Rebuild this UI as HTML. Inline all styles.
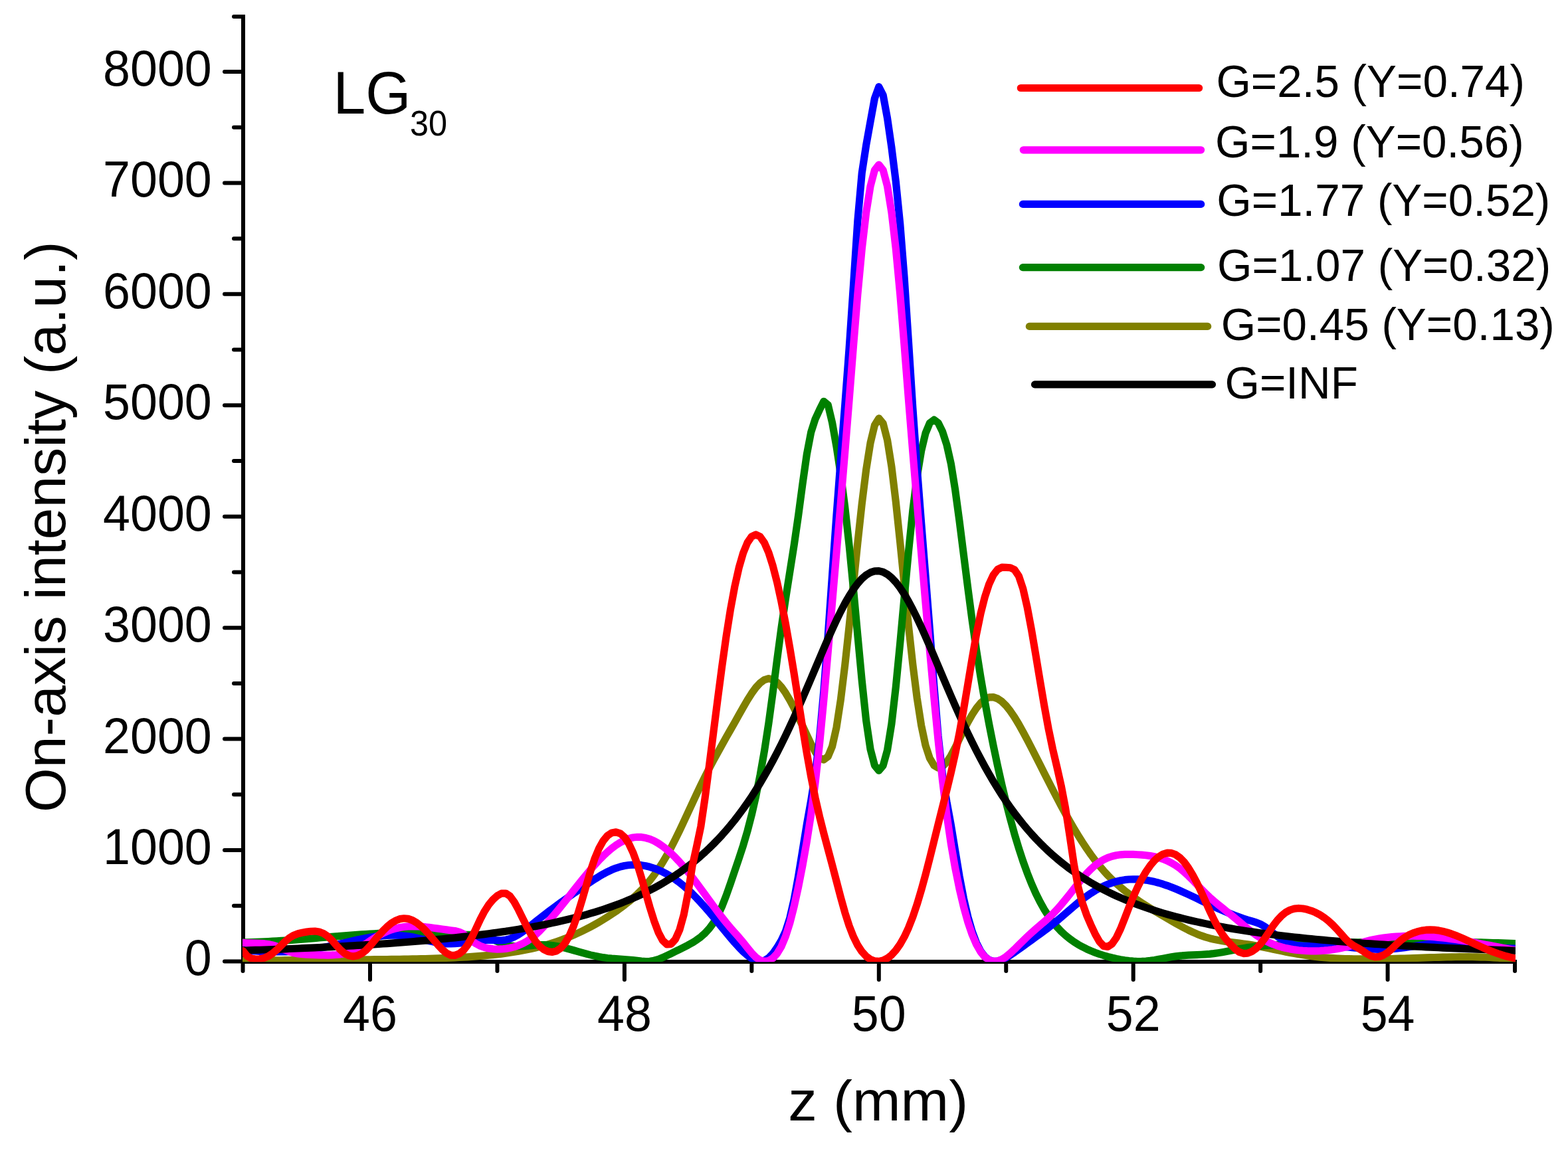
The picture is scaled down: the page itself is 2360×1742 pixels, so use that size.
<!DOCTYPE html>
<html><head><meta charset="utf-8"><title>On-axis intensity LG30</title>
<style>html,body{margin:0;padding:0;background:#fff;}body{width:2360px;height:1742px;overflow:hidden;}svg{display:block;}</style>
</head><body>
<svg xmlns="http://www.w3.org/2000/svg" width="2360" height="1742" viewBox="0 0 2360 1742">
<rect width="100%" height="100%" fill="#ffffff"/>
<defs><clipPath id="pc"><rect x="365" y="0" width="1916" height="1448.2"/></clipPath></defs>
<g stroke="#000" stroke-width="6.0" stroke-linecap="round" fill="none"><line x1="366.0" y1="22" x2="366.0" y2="1451" stroke-linecap="butt"/><line x1="363" y1="1448.0" x2="2283" y2="1448.0" stroke-linecap="butt"/><line x1="338" y1="1447.50" x2="366.0" y2="1447.50" /><line x1="352" y1="1363.78" x2="366.0" y2="1363.78" /><line x1="338" y1="1280.06" x2="366.0" y2="1280.06" /><line x1="352" y1="1196.34" x2="366.0" y2="1196.34" /><line x1="338" y1="1112.62" x2="366.0" y2="1112.62" /><line x1="352" y1="1028.90" x2="366.0" y2="1028.90" /><line x1="338" y1="945.19" x2="366.0" y2="945.19" /><line x1="352" y1="861.47" x2="366.0" y2="861.47" /><line x1="338" y1="777.75" x2="366.0" y2="777.75" /><line x1="352" y1="694.03" x2="366.0" y2="694.03" /><line x1="338" y1="610.31" x2="366.0" y2="610.31" /><line x1="352" y1="526.59" x2="366.0" y2="526.59" /><line x1="338" y1="442.87" x2="366.0" y2="442.87" /><line x1="352" y1="359.15" x2="366.0" y2="359.15" /><line x1="338" y1="275.43" x2="366.0" y2="275.43" /><line x1="352" y1="191.71" x2="366.0" y2="191.71" /><line x1="338" y1="108.00" x2="366.0" y2="108.00" /><line x1="352" y1="25.00" x2="366.0" y2="25.00" /><line x1="365.55" y1="1448.0" x2="365.55" y2="1462" /><line x1="557.00" y1="1448.0" x2="557.00" y2="1475" /><line x1="748.45" y1="1448.0" x2="748.45" y2="1462" /><line x1="939.90" y1="1448.0" x2="939.90" y2="1475" /><line x1="1131.35" y1="1448.0" x2="1131.35" y2="1462" /><line x1="1322.80" y1="1448.0" x2="1322.80" y2="1475" /><line x1="1514.25" y1="1448.0" x2="1514.25" y2="1462" /><line x1="1705.70" y1="1448.0" x2="1705.70" y2="1475" /><line x1="1897.15" y1="1448.0" x2="1897.15" y2="1462" /><line x1="2088.60" y1="1448.0" x2="2088.60" y2="1475" /><line x1="2280.05" y1="1448.0" x2="2280.05" y2="1462" /></g>
<g clip-path="url(#pc)" fill="none" stroke-width="11.2" stroke-linejoin="round" stroke-linecap="round"><path d="M365.55 1446.60L371.93 1446.50L378.31 1446.40L384.70 1446.30L391.08 1446.21L397.46 1446.11L403.84 1446.02L410.22 1445.94L416.60 1445.86L422.98 1445.78L429.37 1445.71L435.75 1445.64L442.13 1445.58L448.51 1445.52L454.89 1445.46L461.27 1445.40L467.66 1445.35L474.04 1445.31L480.42 1445.26L486.80 1445.22L493.18 1445.17L499.57 1445.13L505.95 1445.09L512.33 1445.06L518.71 1445.02L525.09 1444.98L531.47 1444.93L537.85 1444.89L544.24 1444.85L550.62 1444.80L557.00 1444.75L563.38 1444.70L569.76 1444.64L576.15 1444.57L582.53 1444.50L588.91 1444.43L595.29 1444.35L601.67 1444.25L608.05 1444.15L614.43 1444.04L620.82 1443.92L627.20 1443.79L633.58 1443.65L639.96 1443.49L646.34 1443.32L652.72 1443.12L659.11 1442.92L665.49 1442.69L671.87 1442.44L678.25 1442.16L684.63 1441.86L691.02 1441.53L697.40 1441.18L703.78 1440.79L710.16 1440.36L716.54 1439.89L722.92 1439.39L729.30 1438.83L735.69 1438.23L742.07 1437.58L748.45 1436.86L754.83 1436.09L761.21 1435.25L767.60 1434.33L773.98 1433.34L780.36 1432.26L786.74 1431.10L793.12 1429.83L799.50 1428.46L805.88 1426.98L812.27 1425.38L818.65 1423.66L825.03 1421.81L831.41 1419.84L837.79 1417.72L844.17 1415.47L850.56 1413.08L856.94 1410.53L863.32 1407.84L869.70 1404.99L876.08 1401.99L882.47 1398.83L888.85 1395.51L895.23 1392.02L901.61 1388.37L907.99 1384.55L914.37 1380.56L920.75 1376.40L927.14 1372.07L933.52 1367.53L939.90 1362.73L946.28 1357.63L952.66 1352.17L959.05 1346.30L965.43 1339.96L971.81 1333.08L978.19 1325.57L984.57 1317.37L990.95 1308.38L997.33 1298.49L1003.72 1287.67L1010.10 1275.98L1016.48 1263.54L1022.86 1250.49L1029.24 1236.97L1035.62 1223.17L1042.01 1209.29L1048.39 1195.55L1054.77 1182.18L1061.15 1169.27L1067.53 1156.81L1073.92 1144.72L1080.30 1132.96L1086.68 1121.45L1093.06 1110.12L1099.44 1098.88L1105.82 1087.64L1112.20 1076.30L1118.59 1064.96L1124.97 1054.01L1131.35 1043.92L1137.73 1035.16L1144.11 1028.21L1150.50 1023.56L1156.88 1021.70L1163.26 1023.01L1169.64 1027.31L1176.02 1034.21L1182.40 1043.28L1188.78 1054.09L1195.17 1066.22L1201.55 1079.27L1207.93 1092.84L1214.31 1106.57L1220.69 1120.08L1227.08 1132.24L1233.46 1140.90L1239.84 1143.90L1246.22 1139.04L1252.60 1123.77L1258.98 1095.16L1265.37 1053.31L1271.75 1001.25L1278.13 942.46L1284.51 879.93L1290.89 817.16L1297.27 758.31L1303.65 707.20L1310.04 666.86L1316.42 640.20L1322.80 629.87L1329.18 637.62L1335.56 662.57L1341.95 702.82L1348.33 755.65L1354.71 816.36L1361.09 880.09L1367.47 942.63L1373.85 1000.50L1380.23 1051.00L1386.62 1092.08L1393.00 1122.25L1399.38 1141.71L1405.76 1152.44L1412.14 1156.10L1418.52 1154.09L1424.91 1147.57L1431.29 1137.69L1437.67 1125.57L1444.05 1112.42L1450.43 1099.42L1456.82 1087.15L1463.20 1075.97L1469.58 1066.28L1475.96 1058.45L1482.34 1052.88L1488.72 1049.93L1495.10 1049.65L1501.49 1051.83L1507.87 1056.22L1514.25 1062.55L1520.63 1070.56L1527.01 1079.97L1533.40 1090.50L1539.78 1101.89L1546.16 1113.88L1552.54 1126.22L1558.92 1138.73L1565.30 1151.34L1571.68 1163.96L1578.07 1176.53L1584.45 1188.97L1590.83 1201.23L1597.21 1213.25L1603.59 1224.97L1609.97 1236.34L1616.36 1247.34L1622.74 1257.91L1629.12 1268.02L1635.50 1277.65L1641.88 1286.78L1648.27 1295.38L1654.65 1303.43L1661.03 1310.94L1667.41 1317.88L1673.79 1324.32L1680.17 1330.30L1686.55 1335.88L1692.94 1341.12L1699.32 1346.05L1705.70 1350.72L1712.08 1355.16L1718.46 1359.42L1724.85 1363.52L1731.23 1367.50L1737.61 1371.39L1743.99 1375.20L1750.37 1378.97L1756.75 1382.71L1763.13 1386.43L1769.52 1390.11L1775.90 1393.69L1782.28 1397.12L1788.66 1400.37L1795.04 1403.40L1801.42 1406.17L1807.81 1408.67L1814.19 1410.86L1820.57 1412.74L1826.95 1414.30L1833.33 1415.60L1839.72 1416.70L1846.10 1417.65L1852.48 1418.50L1858.86 1419.30L1865.24 1420.10L1871.62 1420.93L1878.00 1421.84L1884.39 1422.86L1890.77 1423.99L1897.15 1425.21L1903.53 1426.50L1909.91 1427.83L1916.30 1429.17L1922.68 1430.52L1929.06 1431.86L1935.44 1433.16L1941.82 1434.41L1948.20 1435.60L1954.58 1436.72L1960.97 1437.77L1967.35 1438.73L1973.73 1439.61L1980.11 1440.39L1986.49 1441.09L1992.87 1441.70L1999.26 1442.21L2005.64 1442.65L2012.02 1443.00L2018.40 1443.29L2024.78 1443.51L2031.17 1443.69L2037.55 1443.82L2043.93 1443.90L2050.31 1443.95L2056.69 1443.97L2063.07 1443.95L2069.45 1443.91L2075.84 1443.84L2082.22 1443.75L2088.60 1443.63L2094.98 1443.49L2101.36 1443.34L2107.75 1443.17L2114.13 1442.98L2120.51 1442.78L2126.89 1442.58L2133.27 1442.36L2139.65 1442.15L2146.03 1441.93L2152.42 1441.72L2158.80 1441.52L2165.18 1441.33L2171.56 1441.15L2177.94 1441.00L2184.32 1440.87L2190.71 1440.77L2197.09 1440.71L2203.47 1440.68L2209.85 1440.70L2216.23 1440.76L2222.62 1440.87L2229.00 1441.04L2235.38 1441.25L2241.76 1441.52L2248.14 1441.85L2254.52 1442.22L2260.90 1442.65L2267.29 1443.11L2273.67 1443.62L2280.05 1444.15" stroke="#808000" /><path d="M365.55 1418.94L371.93 1418.80L378.31 1418.61L384.70 1418.40L391.08 1418.14L397.46 1417.86L403.84 1417.54L410.22 1417.19L416.60 1416.82L422.98 1416.42L429.37 1416.00L435.75 1415.55L442.13 1415.09L448.51 1414.61L454.89 1414.11L461.27 1413.60L467.66 1413.08L474.04 1412.55L480.42 1412.02L486.80 1411.48L493.18 1410.94L499.57 1410.40L505.95 1409.87L512.33 1409.34L518.71 1408.82L525.09 1408.32L531.47 1407.83L537.85 1407.36L544.24 1406.92L550.62 1406.50L557.00 1406.10L563.38 1405.74L569.76 1405.41L576.15 1405.13L582.53 1404.88L588.91 1404.67L595.29 1404.52L601.67 1404.41L608.05 1404.36L614.43 1404.36L620.82 1404.42L627.20 1404.54L633.58 1404.73L639.96 1404.98L646.34 1405.29L652.72 1405.63L659.11 1405.98L665.49 1406.34L671.87 1406.67L678.25 1406.96L684.63 1407.19L691.02 1407.34L697.40 1407.41L703.78 1407.39L710.16 1407.44L716.54 1407.73L722.92 1408.43L729.30 1409.70L735.69 1411.68L742.07 1414.40L748.45 1417.47L754.83 1420.34L761.21 1422.57L767.60 1423.95L773.98 1424.64L780.36 1424.80L786.74 1424.59L793.12 1424.13L799.50 1423.56L805.88 1423.01L812.27 1422.64L818.65 1422.59L825.03 1422.92L831.41 1423.60L837.79 1424.59L844.17 1425.85L850.56 1427.33L856.94 1428.98L863.32 1430.76L869.70 1432.60L876.08 1434.44L882.47 1436.20L888.85 1437.84L895.23 1439.31L901.61 1440.59L907.99 1441.67L914.37 1442.53L920.75 1443.18L927.14 1443.65L933.52 1444.05L939.90 1444.47L946.28 1444.99L952.66 1445.63L959.05 1446.37L965.43 1447.08L971.81 1447.49L978.19 1447.27L984.57 1446.23L990.95 1444.34L997.33 1441.75L1003.72 1438.78L1010.10 1435.69L1016.48 1432.58L1022.86 1429.46L1029.24 1426.29L1035.62 1422.98L1042.01 1419.40L1048.39 1415.37L1054.77 1410.65L1061.15 1404.98L1067.53 1398.01L1073.92 1389.31L1080.30 1378.35L1086.68 1364.59L1093.06 1348.24L1099.44 1330.08L1105.82 1311.20L1112.20 1292.46L1118.59 1272.95L1124.97 1251.27L1131.35 1226.65L1137.73 1198.65L1144.11 1166.77L1150.50 1130.46L1156.88 1089.08L1163.26 1042.34L1169.64 992.79L1176.02 944.90L1182.40 901.64L1188.78 861.21L1195.17 820.65L1201.55 776.59L1207.93 728.81L1214.31 684.14L1220.69 650.82L1227.08 630.80L1233.46 617.11L1239.84 604.33L1246.22 609.50L1252.60 636.47L1258.98 672.42L1265.37 714.41L1271.75 763.75L1278.13 821.36L1284.51 887.07L1290.89 956.66L1297.27 1024.87L1303.65 1084.89L1310.04 1128.08L1316.42 1152.44L1322.80 1160.26L1329.18 1152.63L1335.56 1129.47L1341.95 1089.62L1348.33 1034.08L1354.71 968.50L1361.09 898.85L1367.47 830.15L1373.85 768.25L1380.23 717.61L1386.62 678.98L1393.00 652.25L1399.38 636.90L1405.76 632.10L1412.14 636.77L1418.52 649.67L1424.91 669.60L1431.29 697.97L1437.67 737.41L1444.05 784.86L1450.43 835.38L1456.82 885.92L1463.20 934.29L1469.58 978.75L1475.96 1019.19L1482.34 1056.26L1488.72 1090.58L1495.10 1122.67L1501.49 1152.93L1507.87 1181.42L1514.25 1208.10L1520.63 1232.97L1527.01 1256.02L1533.40 1277.26L1539.78 1296.73L1546.16 1314.46L1552.54 1330.50L1558.92 1344.92L1565.30 1357.79L1571.68 1369.19L1578.07 1379.21L1584.45 1387.98L1590.83 1395.64L1597.21 1402.36L1603.59 1408.25L1609.97 1413.43L1616.36 1417.99L1622.74 1422.03L1629.12 1425.61L1635.50 1428.79L1641.88 1431.64L1648.27 1434.19L1654.65 1436.48L1661.03 1438.53L1667.41 1440.38L1673.79 1442.03L1680.17 1443.49L1686.55 1444.75L1692.94 1445.80L1699.32 1446.63L1705.70 1447.20L1712.08 1447.48L1718.46 1447.43L1724.85 1447.07L1731.23 1446.40L1737.61 1445.48L1743.99 1444.38L1750.37 1443.17L1756.75 1441.95L1763.13 1440.83L1769.52 1439.88L1775.90 1439.14L1782.28 1438.58L1788.66 1438.16L1795.04 1437.83L1801.42 1437.55L1807.81 1437.25L1814.19 1436.87L1820.57 1436.35L1826.95 1435.64L1833.33 1434.74L1839.72 1433.70L1846.10 1432.53L1852.48 1431.29L1858.86 1430.03L1865.24 1428.80L1871.62 1427.66L1878.00 1426.64L1884.39 1425.75L1890.77 1424.98L1897.15 1424.31L1903.53 1423.75L1909.91 1423.27L1916.30 1422.87L1922.68 1422.54L1929.06 1422.25L1935.44 1421.99L1941.82 1421.75L1948.20 1421.52L1954.58 1421.29L1960.97 1421.07L1967.35 1420.85L1973.73 1420.64L1980.11 1420.44L1986.49 1420.24L1992.87 1420.05L1999.26 1419.86L2005.64 1419.68L2012.02 1419.51L2018.40 1419.35L2024.78 1419.19L2031.17 1419.04L2037.55 1418.90L2043.93 1418.76L2050.31 1418.64L2056.69 1418.52L2063.07 1418.41L2069.45 1418.31L2075.84 1418.22L2082.22 1418.13L2088.60 1418.06L2094.98 1417.99L2101.36 1417.94L2107.75 1417.89L2114.13 1417.86L2120.51 1417.83L2126.89 1417.81L2133.27 1417.80L2139.65 1417.81L2146.03 1417.82L2152.42 1417.84L2158.80 1417.88L2165.18 1417.92L2171.56 1417.98L2177.94 1418.04L2184.32 1418.12L2190.71 1418.21L2197.09 1418.31L2203.47 1418.42L2209.85 1418.54L2216.23 1418.67L2222.62 1418.81L2229.00 1418.97L2235.38 1419.13L2241.76 1419.31L2248.14 1419.50L2254.52 1419.70L2260.90 1419.91L2267.29 1420.13L2273.67 1420.36L2280.05 1420.61" stroke="#008000" /><path d="M365.55 1430.74L371.93 1431.21L378.31 1431.64L384.70 1432.02L391.08 1432.34L397.46 1432.61L403.84 1432.81L410.22 1432.95L416.60 1433.01L422.98 1432.99L429.37 1432.88L435.75 1432.67L442.13 1432.36L448.51 1431.93L454.89 1431.38L461.27 1430.69L467.66 1429.84L474.04 1428.86L480.42 1427.74L486.80 1426.51L493.18 1425.19L499.57 1423.79L505.95 1422.33L512.33 1420.85L518.71 1419.36L525.09 1417.89L531.47 1416.45L537.85 1415.05L544.24 1413.73L550.62 1412.49L557.00 1411.37L563.38 1410.39L569.76 1409.56L576.15 1408.91L582.53 1408.45L588.91 1408.22L595.29 1408.22L601.67 1408.47L608.05 1408.98L614.43 1409.77L620.82 1410.85L627.20 1412.18L633.58 1413.68L639.96 1415.23L646.34 1416.75L652.72 1418.14L659.11 1419.33L665.49 1420.24L671.87 1420.80L678.25 1420.94L684.63 1420.71L691.02 1420.17L697.40 1419.42L703.78 1418.53L710.16 1417.59L716.54 1416.70L722.92 1415.94L729.30 1415.44L735.69 1415.27L742.07 1415.51L748.45 1415.86L754.83 1415.89L761.21 1415.17L767.60 1413.40L773.98 1410.68L780.36 1407.12L786.74 1402.86L793.12 1398.09L799.50 1393.01L805.88 1387.89L812.27 1382.83L818.65 1377.85L825.03 1372.95L831.41 1368.15L837.79 1363.43L844.17 1358.79L850.56 1354.23L856.94 1349.73L863.32 1345.28L869.70 1340.86L876.08 1336.46L882.47 1332.08L888.85 1327.79L895.23 1323.62L901.61 1319.66L907.99 1315.95L914.37 1312.57L920.75 1309.58L927.14 1307.05L933.52 1305.02L939.90 1303.51L946.28 1302.53L952.66 1302.06L959.05 1302.12L965.43 1302.68L971.81 1303.74L978.19 1305.29L984.57 1307.31L990.95 1309.79L997.33 1312.71L1003.72 1316.06L1010.10 1319.87L1016.48 1324.13L1022.86 1328.85L1029.24 1334.02L1035.62 1339.63L1042.01 1345.66L1048.39 1352.09L1054.77 1358.89L1061.15 1366.01L1067.53 1373.40L1073.92 1381.00L1080.30 1388.73L1086.68 1396.51L1093.06 1404.24L1099.44 1411.84L1105.82 1419.22L1112.20 1426.25L1118.59 1432.74L1124.97 1438.45L1131.35 1443.08L1137.73 1446.25L1144.11 1447.50L1150.50 1446.31L1156.88 1442.34L1163.26 1435.61L1169.64 1426.53L1176.02 1415.78L1182.40 1402.17L1188.78 1382.12L1195.17 1354.24L1201.55 1319.48L1207.93 1280.37L1214.31 1241.16L1220.69 1205.15L1227.08 1165.45L1233.46 1111.20L1239.84 1040.44L1246.22 956.71L1252.60 865.76L1258.98 775.60L1265.37 691.18L1271.75 609.13L1278.13 524.04L1284.51 429.46L1290.89 331.99L1297.27 260.35L1303.65 218.54L1310.04 182.90L1316.42 148.13L1322.80 130.69L1329.18 143.27L1335.56 178.02L1341.95 222.40L1348.33 273.43L1354.71 336.75L1361.09 417.48L1367.47 514.65L1373.85 614.12L1380.23 704.20L1386.62 786.70L1393.00 866.61L1399.38 947.71L1405.76 1031.35L1412.14 1108.31L1418.52 1167.19L1424.91 1207.00L1431.29 1241.76L1437.67 1280.65L1444.05 1319.23L1450.43 1352.66L1456.82 1380.30L1463.20 1402.48L1469.58 1419.58L1475.96 1432.08L1482.34 1440.49L1488.72 1445.39L1495.10 1447.38L1501.49 1447.08L1507.87 1445.11L1514.25 1441.98L1520.63 1438.10L1527.01 1433.78L1533.40 1429.23L1539.78 1424.60L1546.16 1419.97L1552.54 1415.38L1558.92 1410.81L1565.30 1406.23L1571.68 1401.57L1578.07 1396.71L1584.45 1391.63L1590.83 1386.35L1597.21 1380.93L1603.59 1375.43L1609.97 1369.93L1616.36 1364.48L1622.74 1359.17L1629.12 1354.09L1635.50 1349.32L1641.88 1344.92L1648.27 1340.93L1654.65 1337.34L1661.03 1334.18L1667.41 1331.43L1673.79 1329.12L1680.17 1327.23L1686.55 1325.75L1692.94 1324.69L1699.32 1324.03L1705.70 1323.75L1712.08 1323.84L1718.46 1324.29L1724.85 1325.07L1731.23 1326.17L1737.61 1327.57L1743.99 1329.25L1750.37 1331.18L1756.75 1333.35L1763.13 1335.72L1769.52 1338.28L1775.90 1340.99L1782.28 1343.83L1788.66 1346.76L1795.04 1349.76L1801.42 1352.81L1807.81 1355.87L1814.19 1358.93L1820.57 1361.96L1826.95 1364.95L1833.33 1367.86L1839.72 1370.69L1846.10 1373.42L1852.48 1376.03L1858.86 1378.50L1865.24 1380.83L1871.62 1383.01L1878.00 1385.01L1884.39 1386.85L1890.77 1388.83L1897.15 1391.44L1903.53 1395.11L1909.91 1399.75L1916.30 1404.83L1922.68 1409.85L1929.06 1414.42L1935.44 1418.21L1941.82 1421.01L1948.20 1422.77L1954.58 1423.71L1960.97 1424.06L1967.35 1424.02L1973.73 1423.76L1980.11 1423.46L1986.49 1423.31L1992.87 1423.36L1999.26 1423.58L2005.64 1423.96L2012.02 1424.44L2018.40 1425.02L2024.78 1425.64L2031.17 1426.29L2037.55 1426.93L2043.93 1427.55L2050.31 1428.11L2056.69 1428.59L2063.07 1428.97L2069.45 1429.23L2075.84 1429.34L2082.22 1429.29L2088.60 1429.05L2094.98 1428.63L2101.36 1428.07L2107.75 1427.38L2114.13 1426.60L2120.51 1425.73L2126.89 1424.82L2133.27 1423.89L2139.65 1422.98L2146.03 1422.12L2152.42 1421.34L2158.80 1420.69L2165.18 1420.21L2171.56 1419.94L2177.94 1419.88L2184.32 1420.00L2190.71 1420.29L2197.09 1420.72L2203.47 1421.27L2209.85 1421.90L2216.23 1422.59L2222.62 1423.32L2229.00 1424.06L2235.38 1424.80L2241.76 1425.50L2248.14 1426.16L2254.52 1426.75L2260.90 1427.25L2267.29 1427.65L2273.67 1427.93L2280.05 1428.07" stroke="#0000ff" /><path d="M365.55 1419.33L371.93 1419.76L378.31 1419.95L384.70 1420.06L391.08 1420.27L397.46 1420.71L403.84 1421.56L410.22 1422.92L416.60 1424.91L422.98 1427.51L429.37 1430.31L435.75 1432.85L442.13 1434.82L448.51 1436.05L454.89 1436.73L461.27 1437.10L467.66 1437.35L474.04 1437.61L480.42 1437.84L486.80 1438.00L493.18 1438.04L499.57 1437.90L505.95 1437.52L512.33 1436.84L518.71 1435.77L525.09 1434.18L531.47 1431.93L537.85 1428.91L544.24 1425.23L550.62 1421.06L557.00 1416.68L563.38 1412.45L569.76 1408.60L576.15 1405.21L582.53 1402.30L588.91 1399.88L595.29 1397.96L601.67 1396.51L608.05 1395.51L614.43 1394.91L620.82 1394.69L627.20 1394.78L633.58 1395.13L639.96 1395.70L646.34 1396.43L652.72 1397.27L659.11 1398.17L665.49 1399.07L671.87 1399.92L678.25 1400.69L684.63 1401.51L691.02 1403.08L697.40 1406.13L703.78 1410.88L710.16 1416.21L716.54 1420.91L722.92 1424.27L729.30 1426.50L735.69 1427.92L742.07 1428.75L748.45 1429.10L754.83 1428.96L761.21 1428.36L767.60 1427.27L773.98 1425.65L780.36 1423.47L786.74 1420.66L793.12 1417.14L799.50 1412.82L805.88 1407.63L812.27 1401.60L818.65 1394.92L825.03 1387.84L831.41 1380.45L837.79 1372.82L844.17 1364.98L850.56 1357.00L856.94 1348.92L863.32 1340.82L869.70 1332.74L876.08 1324.77L882.47 1316.96L888.85 1309.37L895.23 1302.09L901.61 1295.18L907.99 1288.70L914.37 1282.72L920.75 1277.32L927.14 1272.55L933.52 1268.49L939.90 1265.17L946.28 1262.67L952.66 1261.03L959.05 1260.29L965.43 1260.46L971.81 1261.52L978.19 1263.45L984.57 1266.21L990.95 1269.76L997.33 1274.07L1003.72 1279.09L1010.10 1284.77L1016.48 1291.06L1022.86 1297.89L1029.24 1305.21L1035.62 1312.96L1042.01 1321.06L1048.39 1329.45L1054.77 1338.06L1061.15 1346.81L1067.53 1355.59L1073.92 1364.31L1080.30 1372.89L1086.68 1381.23L1093.06 1389.26L1099.44 1396.92L1105.82 1404.17L1112.20 1411.32L1118.59 1418.86L1124.97 1426.93L1131.35 1434.82L1137.73 1441.39L1144.11 1445.77L1150.50 1447.48L1156.88 1446.45L1163.26 1442.62L1169.64 1435.67L1176.02 1425.03L1182.40 1409.87L1188.78 1389.78L1195.17 1364.90L1201.55 1335.74L1207.93 1303.18L1214.31 1267.11L1220.69 1226.13L1227.08 1178.23L1233.46 1120.83L1239.84 1054.02L1246.22 981.52L1252.60 907.25L1258.98 832.24L1265.37 756.83L1271.75 680.50L1278.13 601.91L1284.51 520.88L1290.89 442.80L1297.27 374.68L1303.65 320.15L1310.04 280.38L1316.42 256.18L1322.80 248.07L1329.18 256.19L1335.56 280.37L1341.95 320.12L1348.33 374.61L1354.71 442.65L1361.09 520.71L1367.47 601.95L1373.85 681.08L1380.23 757.84L1386.62 833.13L1393.00 907.19L1399.38 979.64L1405.76 1049.76L1412.14 1115.52L1418.52 1174.94L1424.91 1226.66L1431.29 1270.22L1437.67 1306.94L1444.05 1338.45L1450.43 1365.55L1456.82 1388.39L1463.20 1407.12L1469.58 1421.95L1475.96 1433.09L1482.34 1440.84L1488.72 1445.50L1495.10 1447.41L1501.49 1446.94L1507.87 1444.47L1514.25 1440.42L1520.63 1435.18L1527.01 1429.17L1533.40 1422.79L1539.78 1416.42L1546.16 1410.28L1552.54 1404.40L1558.92 1398.77L1565.30 1393.29L1571.68 1387.83L1578.07 1382.18L1584.45 1376.12L1590.83 1369.44L1597.21 1362.16L1603.59 1354.43L1609.97 1346.43L1616.36 1338.33L1622.74 1330.29L1629.12 1322.52L1635.50 1315.21L1641.88 1308.59L1648.27 1302.87L1654.65 1298.14L1661.03 1294.34L1667.41 1291.40L1673.79 1289.23L1680.17 1287.74L1686.55 1286.83L1692.94 1286.38L1699.32 1286.30L1705.70 1286.47L1712.08 1286.77L1718.46 1287.19L1724.85 1287.78L1731.23 1288.62L1737.61 1289.80L1743.99 1291.37L1750.37 1293.42L1756.75 1296.00L1763.13 1299.19L1769.52 1303.02L1775.90 1307.55L1782.28 1312.81L1788.66 1318.74L1795.04 1325.13L1801.42 1331.73L1807.81 1338.35L1814.19 1344.78L1820.57 1350.87L1826.95 1356.52L1833.33 1361.84L1839.72 1366.97L1846.10 1372.03L1852.48 1377.11L1858.86 1382.31L1865.24 1387.66L1871.62 1393.06L1878.00 1398.33L1884.39 1403.34L1890.77 1407.99L1897.15 1412.18L1903.53 1415.86L1909.91 1419.02L1916.30 1421.73L1922.68 1424.02L1929.06 1425.95L1935.44 1427.56L1941.82 1428.86L1948.20 1429.91L1954.58 1430.71L1960.97 1431.28L1967.35 1431.65L1973.73 1431.82L1980.11 1431.79L1986.49 1431.58L1992.87 1431.18L1999.26 1430.59L2005.64 1429.80L2012.02 1428.80L2018.40 1427.59L2024.78 1426.15L2031.17 1424.49L2037.55 1422.68L2043.93 1420.78L2050.31 1418.89L2056.69 1417.10L2063.07 1415.52L2069.45 1414.19L2075.84 1413.08L2082.22 1412.15L2088.60 1411.35L2094.98 1410.68L2101.36 1410.15L2107.75 1409.74L2114.13 1409.45L2120.51 1409.29L2126.89 1409.25L2133.27 1409.33L2139.65 1409.52L2146.03 1409.82L2152.42 1410.22L2158.80 1410.72L2165.18 1411.32L2171.56 1412.00L2177.94 1412.76L2184.32 1413.59L2190.71 1414.49L2197.09 1415.46L2203.47 1416.47L2209.85 1417.54L2216.23 1418.64L2222.62 1419.78L2229.00 1420.95L2235.38 1422.14L2241.76 1423.34L2248.14 1424.56L2254.52 1425.77L2260.90 1426.99L2267.29 1428.20L2273.67 1429.39L2280.05 1430.57" stroke="#ff00ff" /><path d="M365.55 1431.13L371.93 1430.92L378.31 1430.70L384.70 1430.47L391.08 1430.25L397.46 1430.01L403.84 1429.78L410.22 1429.53L416.60 1429.29L422.98 1429.04L429.37 1428.78L435.75 1428.52L442.13 1428.25L448.51 1427.98L454.89 1427.70L461.27 1427.41L467.66 1427.12L474.04 1426.82L480.42 1426.52L486.80 1426.21L493.18 1425.89L499.57 1425.56L505.95 1425.23L512.33 1424.89L518.71 1424.55L525.09 1424.19L531.47 1423.83L537.85 1423.46L544.24 1423.08L550.62 1422.69L557.00 1422.29L563.38 1421.88L569.76 1421.46L576.15 1421.03L582.53 1420.59L588.91 1420.14L595.29 1419.68L601.67 1419.21L608.05 1418.73L614.43 1418.23L620.82 1417.72L627.20 1417.20L633.58 1416.66L639.96 1416.11L646.34 1415.55L652.72 1414.97L659.11 1414.37L665.49 1413.76L671.87 1413.13L678.25 1412.49L684.63 1411.82L691.02 1411.14L697.40 1410.44L703.78 1409.72L710.16 1408.98L716.54 1408.21L722.92 1407.42L729.30 1406.62L735.69 1405.78L742.07 1404.92L748.45 1404.04L754.83 1403.13L761.21 1402.19L767.60 1401.22L773.98 1400.22L780.36 1399.18L786.74 1398.12L793.12 1397.02L799.50 1395.89L805.88 1394.71L812.27 1393.50L818.65 1392.25L825.03 1390.95L831.41 1389.61L837.79 1388.23L844.17 1386.79L850.56 1385.31L856.94 1383.77L863.32 1382.18L869.70 1380.53L876.08 1378.82L882.47 1377.04L888.85 1375.20L895.23 1373.29L901.61 1371.31L907.99 1369.25L914.37 1367.10L920.75 1364.88L927.14 1362.57L933.52 1360.16L939.90 1357.66L946.28 1355.05L952.66 1352.34L959.05 1349.51L965.43 1346.57L971.81 1343.50L978.19 1340.30L984.57 1336.96L990.95 1333.47L997.33 1329.83L1003.72 1326.03L1010.10 1322.06L1016.48 1317.91L1022.86 1313.57L1029.24 1309.03L1035.62 1304.29L1042.01 1299.32L1048.39 1294.12L1054.77 1288.67L1061.15 1282.97L1067.53 1277.00L1073.92 1270.75L1080.30 1264.19L1086.68 1257.33L1093.06 1250.13L1099.44 1242.60L1105.82 1234.71L1112.20 1226.44L1118.59 1217.79L1124.97 1208.73L1131.35 1199.26L1137.73 1189.35L1144.11 1179.01L1150.50 1168.22L1156.88 1156.98L1163.26 1145.28L1169.64 1133.12L1176.02 1120.51L1182.40 1107.46L1188.78 1093.99L1195.17 1080.12L1201.55 1065.90L1207.93 1051.37L1214.31 1036.58L1220.69 1021.62L1227.08 1006.55L1233.46 991.49L1239.84 976.54L1246.22 961.83L1252.60 947.50L1258.98 933.71L1265.37 920.61L1271.75 908.37L1278.13 897.17L1284.51 887.15L1290.89 878.49L1297.27 871.33L1303.65 865.78L1310.04 861.95L1316.42 859.91L1322.80 859.69L1329.18 861.30L1335.56 864.71L1341.95 869.86L1348.33 876.65L1354.71 884.96L1361.09 894.67L1367.47 905.61L1373.85 917.61L1380.23 930.52L1386.62 944.17L1393.00 958.38L1399.38 973.01L1405.76 987.91L1412.14 1002.96L1418.52 1018.04L1424.91 1033.03L1431.29 1047.87L1437.67 1062.47L1444.05 1076.77L1450.43 1090.72L1456.82 1104.29L1463.20 1117.44L1469.58 1130.16L1475.96 1142.43L1482.34 1154.24L1488.72 1165.59L1495.10 1176.49L1501.49 1186.93L1507.87 1196.94L1514.25 1206.51L1520.63 1215.67L1527.01 1224.42L1533.40 1232.77L1539.78 1240.75L1546.16 1248.37L1552.54 1255.65L1558.92 1262.59L1565.30 1269.21L1571.68 1275.54L1578.07 1281.58L1584.45 1287.34L1590.83 1292.85L1597.21 1298.10L1603.59 1303.12L1609.97 1307.92L1616.36 1312.51L1622.74 1316.90L1629.12 1321.09L1635.50 1325.10L1641.88 1328.94L1648.27 1332.62L1654.65 1336.14L1661.03 1339.52L1667.41 1342.75L1673.79 1345.85L1680.17 1348.82L1686.55 1351.68L1692.94 1354.42L1699.32 1357.05L1705.70 1359.58L1712.08 1362.00L1718.46 1364.34L1724.85 1366.58L1731.23 1368.74L1737.61 1370.82L1743.99 1372.82L1750.37 1374.75L1756.75 1376.61L1763.13 1378.40L1769.52 1380.13L1775.90 1381.79L1782.28 1383.40L1788.66 1384.95L1795.04 1386.45L1801.42 1387.89L1807.81 1389.29L1814.19 1390.64L1820.57 1391.94L1826.95 1393.21L1833.33 1394.43L1839.72 1395.61L1846.10 1396.75L1852.48 1397.86L1858.86 1398.93L1865.24 1399.97L1871.62 1400.98L1878.00 1401.96L1884.39 1402.90L1890.77 1403.82L1897.15 1404.71L1903.53 1405.58L1909.91 1406.42L1916.30 1407.23L1922.68 1408.03L1929.06 1408.80L1935.44 1409.54L1941.82 1410.27L1948.20 1410.98L1954.58 1411.66L1960.97 1412.33L1967.35 1412.98L1973.73 1413.61L1980.11 1414.23L1986.49 1414.83L1992.87 1415.41L1999.26 1415.98L2005.64 1416.53L2012.02 1417.07L2018.40 1417.60L2024.78 1418.11L2031.17 1418.61L2037.55 1419.10L2043.93 1419.57L2050.31 1420.04L2056.69 1420.49L2063.07 1420.93L2069.45 1421.36L2075.84 1421.78L2082.22 1422.19L2088.60 1422.59L2094.98 1422.98L2101.36 1423.37L2107.75 1423.74L2114.13 1424.11L2120.51 1424.46L2126.89 1424.81L2133.27 1425.15L2139.65 1425.49L2146.03 1425.81L2152.42 1426.13L2158.80 1426.44L2165.18 1426.75L2171.56 1427.05L2177.94 1427.34L2184.32 1427.63L2190.71 1427.91L2197.09 1428.18L2203.47 1428.45L2209.85 1428.72L2216.23 1428.98L2222.62 1429.23L2229.00 1429.48L2235.38 1429.72L2241.76 1429.96L2248.14 1430.19L2254.52 1430.42L2260.90 1430.64L2267.29 1430.86L2273.67 1431.08L2280.05 1431.29" stroke="#000000" /><path d="M365.55 1431.57L371.93 1439.54L378.31 1442.95L384.70 1444.05L391.08 1443.80L397.46 1442.40L403.84 1439.70L410.22 1435.57L416.60 1430.09L422.98 1423.71L429.37 1417.29L435.75 1411.95L442.13 1408.19L448.51 1405.76L454.89 1404.25L461.27 1403.12L467.66 1402.25L474.04 1402.06L480.42 1402.97L486.80 1405.38L493.18 1409.57L499.57 1415.61L505.95 1422.98L512.33 1430.01L518.71 1435.46L525.09 1438.79L531.47 1439.90L537.85 1438.84L544.24 1435.79L550.62 1430.78L557.00 1424.06L563.38 1416.42L569.76 1408.82L576.15 1401.69L582.53 1395.36L588.91 1390.11L595.29 1386.15L601.67 1383.66L608.05 1382.73L614.43 1383.39L620.82 1385.63L627.20 1389.34L633.58 1394.38L639.96 1400.55L646.34 1407.59L652.72 1415.13L659.11 1422.61L665.49 1429.49L671.87 1435.06L678.25 1438.14L684.63 1438.36L691.02 1436.05L697.40 1431.00L703.78 1422.76L710.16 1411.35L716.54 1397.78L722.92 1384.02L729.30 1371.95L735.69 1362.05L742.07 1354.33L748.45 1348.61L754.83 1345.13L761.21 1345.00L767.60 1349.27L773.98 1358.00L780.36 1369.68L786.74 1382.69L793.12 1395.59L799.50 1407.28L805.88 1417.06L812.27 1424.56L818.65 1429.73L825.03 1432.67L831.41 1433.41L837.79 1431.72L844.17 1427.33L850.56 1419.88L856.94 1408.92L863.32 1394.23L869.70 1376.05L876.08 1355.17L882.47 1332.94L888.85 1311.31L895.23 1292.41L901.61 1277.19L907.99 1265.80L914.37 1258.15L920.75 1253.94L927.14 1252.80L933.52 1254.82L939.90 1260.39L946.28 1269.84L952.66 1283.28L959.05 1300.64L965.43 1321.46L971.81 1344.06L978.19 1366.36L984.57 1386.69L990.95 1403.76L997.33 1415.83L1003.72 1421.85L1010.10 1421.31L1016.48 1414.28L1022.86 1399.99L1029.24 1377.01L1035.62 1344.23L1042.01 1303.87L1048.39 1275.08L1054.77 1244.59L1061.15 1201.18L1067.53 1152.29L1073.92 1102.02L1080.30 1051.84L1086.68 1003.30L1093.06 958.06L1099.44 917.71L1105.82 883.12L1112.20 854.67L1118.59 832.60L1124.97 817.00L1131.35 807.81L1137.73 804.89L1144.11 808.11L1150.50 817.25L1156.88 832.01L1163.26 852.04L1169.64 876.90L1176.02 906.12L1182.40 939.14L1188.78 975.40L1195.17 1014.27L1201.55 1054.73L1207.93 1095.07L1214.31 1133.77L1220.69 1169.56L1227.08 1201.47L1233.46 1229.33L1239.84 1254.55L1246.22 1278.54L1252.60 1302.37L1258.98 1326.73L1265.37 1351.20L1271.75 1374.10L1278.13 1394.07L1284.51 1410.36L1290.89 1423.13L1297.27 1432.83L1303.65 1439.85L1310.04 1444.48L1316.42 1446.95L1322.80 1447.44L1329.18 1446.05L1335.56 1442.83L1341.95 1437.77L1348.33 1430.79L1354.71 1421.78L1361.09 1410.54L1367.47 1396.84L1373.85 1380.48L1380.23 1361.53L1386.62 1340.22L1393.00 1316.91L1399.38 1292.13L1405.76 1266.49L1412.14 1240.75L1418.52 1215.40L1424.91 1189.95L1431.29 1163.54L1437.67 1135.11L1444.05 1103.37L1450.43 1067.70L1456.82 1029.57L1463.20 991.17L1469.58 955.09L1475.96 923.96L1482.34 898.70L1488.72 879.30L1495.10 865.62L1501.49 857.37L1507.87 854.19L1514.25 854.40L1520.63 854.77L1527.01 857.82L1533.40 867.39L1539.78 886.59L1546.16 914.55L1552.54 948.59L1558.92 986.09L1565.30 1024.69L1571.68 1062.29L1578.07 1097.13L1584.45 1127.76L1590.83 1154.90L1597.21 1183.13L1603.59 1216.63L1609.97 1257.87L1616.36 1301.01L1622.74 1335.41L1629.12 1359.62L1635.50 1377.68L1641.88 1392.55L1648.27 1406.15L1654.65 1417.58L1661.03 1424.39L1667.41 1425.37L1673.79 1421.02L1680.17 1411.89L1686.55 1398.51L1692.94 1382.34L1699.32 1365.81L1705.70 1350.19L1712.08 1335.92L1718.46 1323.26L1724.85 1312.35L1731.23 1303.18L1737.61 1295.69L1743.99 1289.94L1750.37 1286.07L1756.75 1284.21L1763.13 1284.44L1769.52 1286.81L1775.90 1291.33L1782.28 1297.94L1788.66 1306.56L1795.04 1317.04L1801.42 1329.17L1807.81 1342.66L1814.19 1356.89L1820.57 1371.01L1826.95 1384.32L1833.33 1396.30L1839.72 1406.60L1846.10 1415.08L1852.48 1422.22L1858.86 1428.67L1865.24 1433.41L1871.62 1435.54L1878.00 1435.14L1884.39 1432.59L1890.77 1427.96L1897.15 1421.28L1903.53 1412.83L1909.91 1403.28L1916.30 1393.73L1922.68 1385.36L1929.06 1378.58L1935.44 1373.47L1941.82 1370.00L1948.20 1368.06L1954.58 1367.46L1960.97 1367.96L1967.35 1369.31L1973.73 1371.30L1980.11 1373.93L1986.49 1377.28L1992.87 1381.44L1999.26 1386.42L2005.64 1392.24L2012.02 1398.83L2018.40 1406.07L2024.78 1413.27L2031.17 1419.45L2037.55 1423.99L2043.93 1427.42L2050.31 1431.23L2056.69 1435.61L2063.07 1439.09L2069.45 1440.79L2075.84 1440.39L2082.22 1438.11L2088.60 1434.04L2094.98 1428.44L2101.36 1422.10L2107.75 1416.27L2114.13 1411.49L2120.51 1407.73L2126.89 1404.87L2133.27 1402.68L2139.65 1401.12L2146.03 1400.18L2152.42 1399.85L2158.80 1400.10L2165.18 1400.88L2171.56 1402.15L2177.94 1403.85L2184.32 1405.92L2190.71 1408.30L2197.09 1410.92L2203.47 1413.71L2209.85 1416.62L2216.23 1419.59L2222.62 1422.55L2229.00 1425.47L2235.38 1428.29L2241.76 1430.97L2248.14 1433.48L2254.52 1435.80L2260.90 1437.89L2267.29 1439.76L2273.67 1441.40L2280.05 1442.80" stroke="#ff0000" /></g>
<g font-family="'Liberation Sans', Arial, sans-serif" fill="#000"><text transform="translate(318.8,1468.4) scale(0.9660,1)" font-size="76.2" text-anchor="end">0</text><text transform="translate(318.8,1301.0) scale(0.9660,1)" font-size="76.2" text-anchor="end">1000</text><text transform="translate(318.8,1133.5) scale(0.9660,1)" font-size="76.2" text-anchor="end">2000</text><text transform="translate(318.8,966.1) scale(0.9660,1)" font-size="76.2" text-anchor="end">3000</text><text transform="translate(318.8,798.6) scale(0.9660,1)" font-size="76.2" text-anchor="end">4000</text><text transform="translate(318.8,631.2) scale(0.9660,1)" font-size="76.2" text-anchor="end">5000</text><text transform="translate(318.8,463.8) scale(0.9660,1)" font-size="76.2" text-anchor="end">6000</text><text transform="translate(318.8,296.3) scale(0.9660,1)" font-size="76.2" text-anchor="end">7000</text><text transform="translate(318.8,128.9) scale(0.9660,1)" font-size="76.2" text-anchor="end">8000</text><text transform="translate(557.0,1552.2) scale(0.9660,1)" font-size="76.2" text-anchor="middle">46</text><text transform="translate(939.9,1552.2) scale(0.9660,1)" font-size="76.2" text-anchor="middle">48</text><text transform="translate(1322.8,1552.2) scale(0.9660,1)" font-size="76.2" text-anchor="middle">50</text><text transform="translate(1705.7,1552.2) scale(0.9660,1)" font-size="76.2" text-anchor="middle">52</text><text transform="translate(2088.6,1552.2) scale(0.9660,1)" font-size="76.2" text-anchor="middle">54</text><text transform="translate(1186.2,1686.8) scale(1.0275,1)" font-size="84.8">z (mm)</text><text transform="translate(97.7,1223.1) rotate(-90) scale(1.0158,1)" font-size="84.6">On-axis intensity (a.u.)</text><text transform="translate(501.6,170.9) scale(0.9735,1)" font-size="90">LG</text><text transform="translate(616.9,203.7) scale(0.9570,1)" font-size="52.8">30</text></g>
<g font-family="'Liberation Sans', Arial, sans-serif" fill="#000"><line x1="1536.3" y1="132.5" x2="1804.6" y2="132.5" stroke="#ff0000" stroke-width="11.2" stroke-linecap="round"/><text transform="translate(1830.4,145.8) scale(0.9770,1)" font-size="69.0">G=2.5 (Y=0.74)</text><line x1="1540.3" y1="225.8" x2="1807.6" y2="225.8" stroke="#ff00ff" stroke-width="11.2" stroke-linecap="round"/><text transform="translate(1829.0,236.7) scale(0.9770,1)" font-size="69.0">G=1.9 (Y=0.56)</text><line x1="1539.4" y1="307.4" x2="1807.7" y2="307.4" stroke="#0000ff" stroke-width="11.2" stroke-linecap="round"/><text transform="translate(1831.2,324.7) scale(0.9770,1)" font-size="69.0">G=1.77 (Y=0.52)</text><line x1="1539.4" y1="402.6" x2="1807.7" y2="402.6" stroke="#008000" stroke-width="11.2" stroke-linecap="round"/><text transform="translate(1832.0,423.0) scale(0.9770,1)" font-size="69.0">G=1.07 (Y=0.32)</text><line x1="1549.3" y1="491.4" x2="1817.7" y2="491.4" stroke="#808000" stroke-width="11.2" stroke-linecap="round"/><text transform="translate(1837.7,511.9) scale(0.9770,1)" font-size="69.0">G=0.45 (Y=0.13)</text><line x1="1557.5" y1="578.9" x2="1824.5" y2="578.9" stroke="#000000" stroke-width="11.2" stroke-linecap="round"/><text transform="translate(1843.5,599.9) scale(0.9770,1)" font-size="69.0">G=INF</text></g>
</svg>
</body></html>
